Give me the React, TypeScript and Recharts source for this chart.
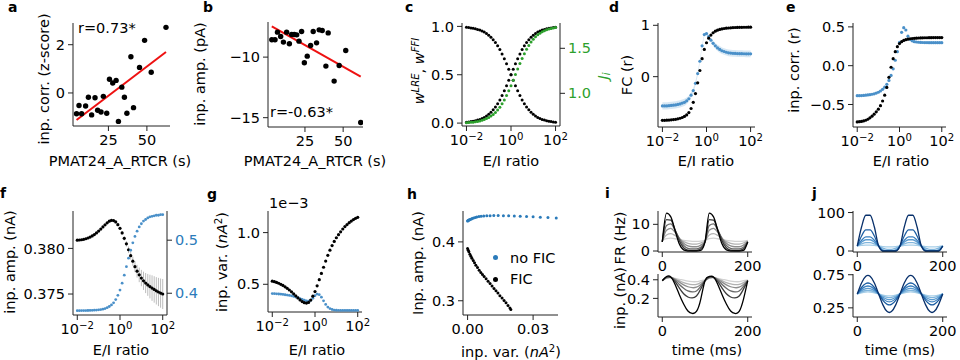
import React from "react";
import {
  ComposedChart,
  ScatterChart,
  Scatter,
  Line,
  Area,
  XAxis,
  YAxis,
  ErrorBar,
  ReferenceLine,
} from "recharts";

const FS = 14.5;
const DOT_BLUE = "#4a90c9";
const TICK_BLUE = "#2b7bba";
const H_BLUE = "#2b7bba";
const GREEN = "#2ca02c";

// a: input correlation vs PMAT24_A_RTCR
const rtcrA = [4.3, 5.9, 7.6, 10.2, 12, 14.1, 16.3, 18, 20.2, 21.7, 23.9, 25.7, 27.8, 30, 31.5, 33.7, 35.4, 37, 39.6, 41.3, 45.2, 48.5, 52.8, 62.4];
const corrA = [-0.86, -0.52, -0.86, -0.54, -0.18, -0.91, -0.2, -0.72, -0.79, -0.14, -0.84, 0.57, 0.41, 0.52, -1.18, 0.24, -0.18, -0.84, 1.5, -0.61, 1.06, 2.18, 0.86, 2.72];
const fitA = { slope: 0.0485, intercept: -1.33 };

// b: input amplitude vs PMAT24_A_RTCR
const rtcrB = [3.3, 5.4, 7, 9.1, 10.9, 13, 14.8, 16.3, 18, 19.6, 21.1, 22.8, 24.6, 26.5, 28.7, 30.4, 32.6, 34.3, 36.3, 38.7, 40.2, 44.1, 47.4, 51.7, 61.5];
const ampB = [-8.57, -8.57, -7.94, -8.3, -8.76, -7.94, -8.9, -8.13, -8.13, -8.16, -8.68, -7.88, -10.47, -9.92, -9.04, -7.88, -8.82, -7.75, -7.8, -10.74, -8, -11.98, -10.69, -9.45, -15.4];
const fitB = { slope: -0.0712, intercept: -7.235 };

// E/I ratio grid (log10)
const eiExp = [-2, -1.9, -1.8, -1.7, -1.6, -1.5, -1.4, -1.3, -1.2, -1.1, -1, -0.9, -0.8, -0.7, -0.6, -0.5, -0.4, -0.3, -0.2, -0.1, 0, 0.1, 0.2, 0.3, 0.4, 0.5, 0.6, 0.7, 0.8, 0.9, 1, 1.1, 1.2, 1.3, 1.4, 1.5, 1.6, 1.7, 1.8, 1.9, 2];

// c
const wLRE = [0.99, 0.988, 0.984, 0.98, 0.975, 0.969, 0.962, 0.952, 0.941, 0.926, 0.909, 0.888, 0.863, 0.834, 0.799, 0.76, 0.715, 0.666, 0.613, 0.557, 0.5, 0.443, 0.387, 0.334, 0.285, 0.24, 0.201, 0.166, 0.137, 0.112, 0.091, 0.074, 0.059, 0.048, 0.038, 0.031, 0.025, 0.02, 0.016, 0.012, 0.01];
const wFFI = [0.01, 0.012, 0.016, 0.02, 0.025, 0.031, 0.038, 0.048, 0.059, 0.074, 0.091, 0.112, 0.137, 0.166, 0.201, 0.24, 0.285, 0.334, 0.387, 0.443, 0.5, 0.557, 0.613, 0.666, 0.715, 0.76, 0.799, 0.834, 0.863, 0.888, 0.909, 0.926, 0.941, 0.952, 0.962, 0.969, 0.975, 0.98, 0.984, 0.988, 0.99];
const jI = [0.674, 0.676, 0.678, 0.68, 0.684, 0.688, 0.693, 0.7, 0.708, 0.719, 0.731, 0.747, 0.765, 0.788, 0.815, 0.846, 0.884, 0.926, 0.975, 1.028, 1.085, 1.146, 1.208, 1.269, 1.33, 1.387, 1.44, 1.489, 1.531, 1.569, 1.6, 1.627, 1.65, 1.668, 1.684, 1.696, 1.707, 1.714, 1.721, 1.726, 1.731];

// d: FC
const fcFic = [-0.85, -0.85, -0.848, -0.845, -0.84, -0.835, -0.83, -0.82, -0.81, -0.795, -0.775, -0.745, -0.7, -0.62, -0.5, -0.33, -0.12, 0.12, 0.35, 0.53, 0.66, 0.75, 0.81, 0.855, 0.885, 0.905, 0.92, 0.93, 0.938, 0.944, 0.948, 0.952, 0.955, 0.957, 0.959, 0.96, 0.961, 0.962, 0.962, 0.963, 0.963];
const fcNoFic = [-0.57, -0.57, -0.57, -0.565, -0.56, -0.555, -0.55, -0.54, -0.53, -0.515, -0.5, -0.47, -0.43, -0.36, -0.27, -0.13, 0.06, 0.3, 0.6, 0.82, 0.84, 0.78, 0.71, 0.65, 0.6, 0.56, 0.53, 0.505, 0.49, 0.475, 0.465, 0.46, 0.455, 0.452, 0.45, 0.448, 0.447, 0.446, 0.445, 0.445, 0.445];
const fcNoFicSd = [0.07, 0.07, 0.07, 0.07, 0.07, 0.07, 0.07, 0.07, 0.07, 0.07, 0.07, 0.065, 0.06, 0.055, 0.05, 0.045, 0.04, 0.035, 0.03, 0.03, 0.03, 0.035, 0.04, 0.05, 0.055, 0.06, 0.065, 0.065, 0.065, 0.065, 0.065, 0.065, 0.065, 0.065, 0.065, 0.065, 0.065, 0.065, 0.065, 0.065, 0.065];

// e: input correlation
const icFic = [-0.725, -0.722, -0.718, -0.712, -0.703, -0.69, -0.672, -0.65, -0.625, -0.595, -0.56, -0.515, -0.455, -0.38, -0.28, -0.15, -0.02, 0.09, 0.18, 0.245, 0.285, 0.31, 0.325, 0.335, 0.342, 0.347, 0.35, 0.353, 0.355, 0.357, 0.358, 0.359, 0.36, 0.36, 0.361, 0.361, 0.362, 0.362, 0.362, 0.362, 0.362];
const icNoFic = [-0.387, -0.386, -0.385, -0.383, -0.38, -0.377, -0.373, -0.368, -0.362, -0.353, -0.342, -0.326, -0.305, -0.277, -0.24, -0.19, -0.125, -0.04, 0.07, 0.18, 0.3, 0.43, 0.49, 0.46, 0.38, 0.34, 0.32, 0.31, 0.305, 0.302, 0.3, 0.299, 0.298, 0.298, 0.297, 0.297, 0.297, 0.296, 0.296, 0.296, 0.296];

// f: input amplitude (nA)
const ampFic = [0.3809, 0.38092, 0.38095, 0.381, 0.38106, 0.38114, 0.38124, 0.38137, 0.38152, 0.3817, 0.3819, 0.38212, 0.38235, 0.38258, 0.3828, 0.38298, 0.38308, 0.38305, 0.3829, 0.3826, 0.3822, 0.3817, 0.3811, 0.3805, 0.37985, 0.3792, 0.3786, 0.378, 0.3775, 0.3771, 0.37675, 0.37645, 0.3762, 0.376, 0.37582, 0.37565, 0.3755, 0.37535, 0.37522, 0.3751, 0.375];
const ampFicSd = [0.0001, 0.0001, 0.0001, 0.0001, 0.0001, 0.0001, 0.0001, 0.0001, 0.0001, 0.0001, 0.0001, 0.0001, 0.0001, 0.0001, 0.0001, 0.0001, 0.00012, 0.00013, 0.00014, 0.00015, 0.00017, 0.0002, 0.00024, 0.0003, 0.00036, 0.00043, 0.0005, 0.0006, 0.0007, 0.0008, 0.0009, 0.001, 0.0011, 0.0012, 0.0013, 0.0014, 0.00145, 0.0015, 0.00155, 0.0016, 0.00165];
const ampNoFic = [0.3672, 0.3672, 0.3673, 0.3673, 0.3674, 0.3675, 0.3676, 0.3678, 0.368, 0.3683, 0.3687, 0.3693, 0.37, 0.3712, 0.3728, 0.375, 0.378, 0.382, 0.388, 0.396, 0.406, 0.419, 0.434, 0.45, 0.466, 0.481, 0.495, 0.507, 0.517, 0.525, 0.531, 0.536, 0.539, 0.542, 0.544, 0.545, 0.546, 0.547, 0.547, 0.548, 0.548];

// g: input variance, in units of 1e-3 nA^2
const varFic = [0.53, 0.525, 0.518, 0.51, 0.5, 0.489, 0.476, 0.461, 0.445, 0.427, 0.408, 0.388, 0.368, 0.349, 0.333, 0.322, 0.318, 0.325, 0.347, 0.385, 0.43, 0.485, 0.545, 0.605, 0.665, 0.725, 0.78, 0.83, 0.875, 0.915, 0.95, 0.98, 1.008, 1.035, 1.058, 1.078, 1.096, 1.112, 1.126, 1.138, 1.148];
const varNoFic = [0.41, 0.409, 0.408, 0.406, 0.404, 0.402, 0.399, 0.396, 0.392, 0.388, 0.383, 0.377, 0.37, 0.362, 0.354, 0.346, 0.34, 0.338, 0.345, 0.365, 0.39, 0.405, 0.4, 0.375, 0.34, 0.305, 0.28, 0.265, 0.256, 0.251, 0.249, 0.248, 0.247, 0.247, 0.247, 0.247, 0.247, 0.247, 0.247, 0.247, 0.247];

// h: amplitude vs variance
const hNoFicVar = [0, 0.00015, 0.0003, 0.0006, 0.0009, 0.0012, 0.0017, 0.0021, 0.0027, 0.0035, 0.0042, 0.0052, 0.0062, 0.0074, 0.0088, 0.0103, 0.012, 0.014, 0.0164, 0.0188, 0.0214, 0.0241, 0.027, 0.03, 0.0333, 0.0368, 0.0406];
const hNoFicAmp = [0.4356, 0.436, 0.4364, 0.437, 0.4376, 0.4382, 0.439, 0.4398, 0.4407, 0.4416, 0.4423, 0.443, 0.4436, 0.444, 0.4444, 0.4446, 0.4447, 0.4447, 0.4446, 0.4444, 0.4441, 0.4437, 0.4432, 0.4426, 0.442, 0.4413, 0.4405];
const hFicVar = [0, 0.0003, 0.0006, 0.00106, 0.00152, 0.00197, 0.00258, 0.00318, 0.00379, 0.00455, 0.0053, 0.00606, 0.00682, 0.00758, 0.00848, 0.00939, 0.0103, 0.0112, 0.0121, 0.013, 0.0139, 0.0148, 0.0158, 0.0167, 0.0176, 0.0185, 0.0194, 0.0198];
const hFicAmp = [0.3887, 0.3859, 0.3831, 0.3791, 0.3757, 0.3723, 0.3684, 0.3644, 0.3605, 0.3565, 0.352, 0.348, 0.3446, 0.3412, 0.3373, 0.3333, 0.3294, 0.3249, 0.3209, 0.3169, 0.313, 0.3085, 0.3045, 0.3006, 0.2966, 0.2921, 0.2876, 0.2853];

// i, j: time courses
const timeMs = [0, 10, 20, 30, 40, 50, 60, 70, 80, 90, 100, 110, 120, 130, 140, 150, 160, 170, 180, 190, 200];
const frFic = [
  [4.0, 4.6, 4.8, 4.6, 4.3, 4.0, 3.8, 3.65, 3.6, 3.7, 4.0, 4.6, 4.8, 4.6, 4.3, 4.0, 3.8, 3.65, 3.6, 3.7, 4.0],
  [3.8, 6.0, 6.5, 5.8, 4.6, 3.5, 2.9, 2.6, 2.6, 3.0, 3.8, 6.0, 6.5, 5.8, 4.6, 3.5, 2.9, 2.6, 2.6, 3.0, 3.8],
  [3.6, 7.8, 8.5, 7.0, 4.8, 2.9, 1.9, 1.6, 1.6, 2.2, 3.6, 7.8, 8.5, 7.0, 4.8, 2.9, 1.9, 1.6, 1.6, 2.2, 3.6],
  [3.5, 9.6, 10.2, 7.8, 4.6, 2.1, 1.0, 0.8, 0.8, 1.4, 3.5, 9.6, 10.2, 7.8, 4.6, 2.1, 1.0, 0.8, 0.8, 1.4, 3.5],
  [3.4, 11.8, 11.6, 8.0, 3.8, 1.2, 0.3, 0.2, 0.2, 0.8, 3.4, 11.8, 11.6, 8.0, 3.8, 1.2, 0.3, 0.2, 0.2, 0.8, 3.4],
  [3.4, 14.2, 12.8, 7.6, 2.6, 0.4, 0, 0, 0, 0.2, 3.4, 14.2, 12.8, 7.6, 2.6, 0.4, 0, 0, 0, 0.2, 3.4],
];
const inpFic = [
  [0.4, 0.415, 0.42, 0.415, 0.405, 0.395, 0.385, 0.38, 0.38, 0.39, 0.4, 0.415, 0.42, 0.415, 0.405, 0.395, 0.385, 0.38, 0.38, 0.39, 0.4],
  [0.395, 0.42, 0.425, 0.41, 0.39, 0.37, 0.355, 0.348, 0.35, 0.37, 0.395, 0.42, 0.425, 0.41, 0.39, 0.37, 0.355, 0.348, 0.35, 0.37, 0.395],
  [0.39, 0.42, 0.425, 0.405, 0.375, 0.345, 0.325, 0.315, 0.32, 0.35, 0.39, 0.42, 0.425, 0.405, 0.375, 0.345, 0.325, 0.315, 0.32, 0.35, 0.39],
  [0.39, 0.425, 0.425, 0.395, 0.35, 0.31, 0.28, 0.27, 0.28, 0.33, 0.39, 0.425, 0.425, 0.395, 0.35, 0.31, 0.28, 0.27, 0.28, 0.33, 0.39],
  [0.39, 0.43, 0.425, 0.38, 0.31, 0.25, 0.215, 0.205, 0.225, 0.3, 0.39, 0.43, 0.425, 0.38, 0.31, 0.25, 0.215, 0.205, 0.225, 0.3, 0.39],
  [0.39, 0.435, 0.43, 0.35, 0.24, 0.14, 0.065, 0.038, 0.06, 0.19, 0.39, 0.435, 0.43, 0.35, 0.24, 0.14, 0.065, 0.038, 0.06, 0.19, 0.39],
];
const frNoFic = [
  [13, 14.5, 15.4, 15.4, 14.5, 13, 11.5, 10.6, 10.6, 11.5, 13, 14.5, 15.4, 15.4, 14.5, 13, 11.5, 10.6, 10.6, 11.5, 13],
  [13, 18.3, 21.6, 21.6, 18.3, 13, 7.7, 4.4, 4.4, 7.7, 13, 18.3, 21.6, 21.6, 18.3, 13, 7.7, 4.4, 4.4, 7.7, 13],
  [13, 23, 29.2, 29.2, 23, 13, 3, 0, 0, 3, 13, 23, 29.2, 29.2, 23, 13, 3, 0, 0, 3, 13],
  [13, 27.7, 36.8, 36.8, 27.7, 13, 0, 0, 0, 0, 13, 27.7, 36.8, 36.8, 27.7, 13, 0, 0, 0, 0, 13],
  [13, 38.9, 54.8, 54.8, 38.9, 13, 0, 0, 0, 0, 13, 38.9, 54.8, 54.8, 38.9, 13, 0, 0, 0, 0, 13],
  [13, 62.4, 92.9, 92.9, 62.4, 13, 0, 0, 0, 0, 13, 62.4, 92.9, 92.9, 62.4, 13, 0, 0, 0, 0, 13],
];
const inpNoFic = [
  [0.46, 0.478, 0.489, 0.489, 0.478, 0.46, 0.442, 0.431, 0.431, 0.442, 0.46, 0.478, 0.489, 0.489, 0.478, 0.46, 0.442, 0.431, 0.431, 0.442, 0.46],
  [0.46, 0.492, 0.512, 0.512, 0.492, 0.46, 0.428, 0.408, 0.408, 0.428, 0.46, 0.492, 0.512, 0.512, 0.492, 0.46, 0.428, 0.408, 0.408, 0.428, 0.46],
  [0.46, 0.51, 0.541, 0.541, 0.51, 0.46, 0.41, 0.379, 0.379, 0.41, 0.46, 0.51, 0.541, 0.541, 0.51, 0.46, 0.41, 0.379, 0.379, 0.41, 0.46],
  [0.46, 0.531, 0.574, 0.574, 0.531, 0.46, 0.389, 0.346, 0.346, 0.389, 0.46, 0.531, 0.574, 0.574, 0.531, 0.46, 0.389, 0.346, 0.346, 0.389, 0.46],
  [0.46, 0.557, 0.617, 0.617, 0.557, 0.46, 0.363, 0.303, 0.303, 0.363, 0.46, 0.557, 0.617, 0.617, 0.557, 0.46, 0.363, 0.303, 0.303, 0.363, 0.46],
  [0.46, 0.625, 0.726, 0.726, 0.625, 0.46, 0.295, 0.194, 0.194, 0.295, 0.46, 0.625, 0.726, 0.726, 0.625, 0.46, 0.295, 0.194, 0.194, 0.295, 0.46],
];
const grays = ["#d2d2d2", "#b2b2b2", "#8e8e8e", "#6a6a6a", "#3c3c3c", "#000000"];
const blues = ["#a6cee8", "#80b5dc", "#5a9bd0", "#3a7fbf", "#1c5ea3", "#08306b"];

// ---- layout helpers
type Box = { x0: number; y0: number; x1: number; y1: number };
const PL = 60, PT = 8, PR = 30, PRA = 40, PB = 34;

const geom = (b: Box, rightAxis = false) => ({
  style: { position: "absolute" as const, left: b.x0 - PL, top: b.y0 - PT },
  width: b.x1 - b.x0 + PL + (rightAxis ? PRA : PR),
  height: b.y1 - b.y0 + PT + PB,
  margin: { top: PT, left: 0, bottom: 0, right: rightAxis ? 0 : PR },
});

const fx = (d: number) => (v: number) => v.toFixed(d).replace("-", "\u2212");

const xAx = {
  stroke: "#222",
  tickSize: 5,
  tickMargin: 4,
  tick: { fill: "#000", fontSize: FS },
  interval: 0 as const,
  allowDataOverflow: true,
};
const yAx = { ...xAx, tickMargin: 3 };

const PowTick = (p: any) => {
  const v = p.payload.value;
  return (
    <text x={p.x} y={p.y} dy="0.71em" textAnchor="middle" fill="#000" fontSize={FS}>
      10
      <tspan dy="-0.5em" fontSize={FS * 0.7}>
        {v < 0 ? `\u2212${-v}` : v}
      </tspan>
    </text>
  );
};

const Txt = ({ x, y, a = "start", size = FS, bold = false, color = "#000", rot = false, children }: any) => {
  const style: React.CSSProperties = {
    position: "absolute",
    left: x,
    whiteSpace: "nowrap",
    fontSize: size,
    lineHeight: `${size}px`,
    color,
    fontWeight: bold ? "bold" : "normal",
  };
  if (rot) {
    style.top = y;
    style.transform = "translate(-50%, -50%) rotate(-90deg)";
  } else {
    style.top = y - 0.846 * size;
    if (a === "middle") style.transform = "translateX(-50%)";
    if (a === "end") style.transform = "translateX(-100%)";
  }
  return <div style={style}>{children}</div>;
};

const sup = { fontSize: "0.7em", verticalAlign: "0.5em", lineHeight: 0 };
const sub = { fontSize: "0.7em", verticalAlign: "-0.25em", lineHeight: 0 };

// ---- panels
function CorrPanel({ box, xs, ys, fit, xDom, yDom, yTicks, yFmt }: any) {
  const g = geom(box);
  const pts = xs.map((x: number, i: number) => ({ x, y: ys[i] }));
  const lo = Math.min(...xs);
  const hi = Math.max(...xs);
  return (
    <div style={g.style}>
      <ScatterChart width={g.width} height={g.height} margin={g.margin}>
        <XAxis dataKey="x" type="number" domain={xDom} ticks={[25, 50]} height={PB} {...xAx} />
        <YAxis dataKey="y" type="number" domain={yDom} ticks={yTicks} tickFormatter={yFmt} width={PL} {...yAx} />
        <Scatter
          data={pts}
          fill="#000"
          isAnimationActive={false}
          shape={(p: any) => <circle cx={p.cx} cy={p.cy} r={2.7} fill="#000" />}
        />
        <ReferenceLine
          segment={[
            { x: lo, y: fit.intercept + fit.slope * lo },
            { x: hi, y: fit.intercept + fit.slope * hi },
          ]}
          stroke="#ee1111"
          strokeWidth={2}
        />
      </ScatterChart>
    </div>
  );
}

function EiPanel({ box, rows, left, right, series, band }: any) {
  const g = geom(box, !!right);
  return (
    <div style={g.style}>
      <ComposedChart width={g.width} height={g.height} margin={g.margin} data={rows}>
        <XAxis dataKey="e" type="number" domain={[-2.2, 2.2]} ticks={[-2, 0, 2]} height={PB} {...xAx} tick={<PowTick />} />
        <YAxis yAxisId="l" type="number" domain={left.domain} ticks={left.ticks} tickFormatter={left.fmt} width={PL} {...yAx} />
        {right && (
          <YAxis
            yAxisId="r"
            orientation="right"
            type="number"
            domain={right.domain}
            ticks={right.ticks}
            tickFormatter={right.fmt}
            width={PRA}
            {...yAx}
            tick={{ fill: right.color, fontSize: FS }}
          />
        )}
        {band && (
          <Area yAxisId="l" dataKey="band" stroke="none" fill={band} fillOpacity={0.45} activeDot={false} isAnimationActive={false} />
        )}
        {series.map((s: any) => (
          <Line
            key={s.key}
            yAxisId={s.axis || "l"}
            dataKey={s.key}
            stroke="none"
            dot={{ r: s.r || 1.6, fill: s.color, stroke: "none", strokeWidth: 0 }}
            activeDot={false}
            isAnimationActive={false}
          >
            {s.err && <ErrorBar dataKey={s.err} width={0} stroke="#bdbdbd" strokeWidth={1} direction="y" />}
          </Line>
        ))}
      </ComposedChart>
    </div>
  );
}

function TimePanel({ box, series, colors, yDom, yTicks, yFmt, curve }: any) {
  const g = geom(box);
  const rows = timeMs.map((t, i) => {
    const r: any = { t };
    series.forEach((s: number[], k: number) => (r["s" + k] = s[i]));
    return r;
  });
  return (
    <div style={g.style}>
      <ComposedChart width={g.width} height={g.height} margin={g.margin} data={rows}>
        <XAxis dataKey="t" type="number" domain={[-10, 210]} ticks={[0, 200]} height={PB} {...xAx} />
        <YAxis type="number" domain={yDom} ticks={yTicks} tickFormatter={yFmt} width={PL} {...yAx} />
        {series.map((_: any, k: number) => (
          <Line
            key={k}
            dataKey={"s" + k}
            type={curve}
            stroke={colors[k]}
            strokeWidth={1.3}
            dot={false}
            activeDot={false}
            isAnimationActive={false}
          />
        ))}
      </ComposedChart>
    </div>
  );
}

function HPanel({ box }: { box: Box }) {
  const g = geom(box);
  const noFic = hNoFicVar.map((x, i) => ({ x, y: hNoFicAmp[i] }));
  const fic = hFicVar.map((x, i) => ({ x, y: hFicAmp[i] }));
  return (
    <div style={g.style}>
      <ScatterChart width={g.width} height={g.height} margin={g.margin}>
        <XAxis dataKey="x" type="number" domain={[-0.0021, 0.0414]} ticks={[0, 0.03]} tickFormatter={fx(2)} height={PB} {...xAx} />
        <YAxis dataKey="y" type="number" domain={[0.2758, 0.4525]} ticks={[0.3, 0.4]} tickFormatter={fx(1)} width={PL} {...yAx} />
        <Scatter name="no FIC" data={noFic} isAnimationActive={false}
          shape={(p: any) => <circle cx={p.cx} cy={p.cy} r={1.5} fill={H_BLUE} />} />
        <Scatter name="FIC" data={fic} isAnimationActive={false}
          shape={(p: any) => <circle cx={p.cx} cy={p.cy} r={1.5} fill="#000" />} />
      </ScatterChart>
    </div>
  );
}

export default function App() {
  const cRows = eiExp.map((e, i) => ({ e, lre: wLRE[i], ffi: wFFI[i], ji: jI[i] }));
  const dRows = eiExp.map((e, i) => ({
    e,
    fic: fcFic[i],
    nofic: fcNoFic[i],
    band: [fcNoFic[i] - fcNoFicSd[i], fcNoFic[i] + fcNoFicSd[i]],
  }));
  const eRows = eiExp.map((e, i) => ({ e, fic: icFic[i], nofic: icNoFic[i] }));
  const fRows = eiExp.map((e, i) => ({ e, fic: ampFic[i], sd: ampFicSd[i], nofic: ampNoFic[i] }));
  const gRows = eiExp.map((e, i) => ({ e, fic: varFic[i], nofic: varNoFic[i] }));

  return (
    <div
      style={{
        position: "absolute",
        left: 0,
        top: 0,
        width: 960,
        height: 360,
        overflow: "hidden",
        background: "#fff",
        fontFamily: "'DejaVu Sans', sans-serif",
      }}
    >
      <CorrPanel box={{ x0: 73, y0: 23, x1: 170, y1: 126 }} xs={rtcrA} ys={corrA} fit={fitA}
        xDom={[2, 65]} yDom={[-1.37, 2.9]} yTicks={[0, 2]} yFmt={fx(0)} />
      <CorrPanel box={{ x0: 268, y0: 22, x1: 363, y1: 127 }} xs={rtcrB} ys={ampB} fit={fitB}
        xDom={[0.8, 63]} yDom={[-15.77, -7.1]} yTicks={[-15, -10]} yFmt={fx(0)} />

      <EiPanel box={{ x0: 462, y0: 23, x1: 560, y1: 126 }} rows={cRows}
        left={{ domain: [-0.03, 1.035], ticks: [0, 0.5, 1], fmt: fx(1) }}
        right={{ domain: [0.637, 1.781], ticks: [1, 1.5], fmt: fx(1), color: GREEN }}
        series={[
          { key: "lre", color: "#000", r: 1.5 },
          { key: "ffi", color: "#000", r: 1.5 },
          { key: "ji", color: GREEN, axis: "r", r: 1.5 },
        ]} />
      <EiPanel box={{ x0: 658, y0: 23, x1: 755, y1: 127 }} rows={dRows} band="#a9cbe6"
        left={{ domain: [-0.98, 1.045], ticks: [0, 1], fmt: fx(0) }}
        series={[
          { key: "nofic", color: DOT_BLUE },
          { key: "fic", color: "#000" },
        ]} />
      <EiPanel box={{ x0: 853, y0: 23, x1: 946, y1: 127 }} rows={eRows}
        left={{ domain: [-0.79, 0.55], ticks: [-0.5, 0, 0.5], fmt: fx(1) }}
        series={[
          { key: "nofic", color: DOT_BLUE },
          { key: "fic", color: "#000" },
        ]} />

      <EiPanel box={{ x0: 73, y0: 211, x1: 167, y1: 315 }} rows={fRows}
        left={{ domain: [0.3727, 0.3841], ticks: [0.375, 0.38], fmt: fx(3) }}
        right={{ domain: [0.359, 0.555], ticks: [0.4, 0.5], fmt: fx(1), color: TICK_BLUE }}
        series={[
          { key: "fic", color: "#000", err: "sd" },
          { key: "nofic", color: DOT_BLUE, axis: "r", r: 1.4 },
        ]} />
      <EiPanel box={{ x0: 268, y0: 211, x1: 362, y1: 312 }} rows={gRows}
        left={{ domain: [0.232, 1.209], ticks: [0.5, 1], fmt: fx(1) }}
        series={[
          { key: "nofic", color: DOT_BLUE, r: 1.4 },
          { key: "fic", color: "#000" },
        ]} />
      <HPanel box={{ x0: 463, y0: 211, x1: 558, y1: 315 }} />

      <TimePanel box={{ x0: 658, y0: 211, x1: 752, y1: 252 }} series={frFic} colors={grays} curve="monotone"
        yDom={[-0.37, 15]} yTicks={[0, 10]} yFmt={fx(0)} />
      <TimePanel box={{ x0: 658, y0: 274, x1: 752, y1: 317 }} series={inpFic} colors={grays} curve="natural"
        yDom={[0, 0.462]} yTicks={[0.2, 0.4]} yFmt={fx(1)} />
      <TimePanel box={{ x0: 853, y0: 211, x1: 947, y1: 252 }} series={frNoFic} colors={blues} curve="monotone"
        yDom={[-2.6, 104]} yTicks={[0, 100]} yFmt={fx(0)} />
      <TimePanel box={{ x0: 853, y0: 274, x1: 947, y1: 317 }} series={inpNoFic} colors={blues} curve="natural"
        yDom={[0.112, 0.761]} yTicks={[0.25, 0.75]} yFmt={fx(2)} />

      {/* panel letters */}
      <Txt x={8} y={12} size={14} bold>a</Txt>
      <Txt x={203} y={12} size={14} bold>b</Txt>
      <Txt x={405} y={12} size={14} bold>c</Txt>
      <Txt x={609} y={12} size={14} bold>d</Txt>
      <Txt x={786} y={12} size={14} bold>e</Txt>
      <Txt x={0} y={198} size={14} bold>f</Txt>
      <Txt x={207} y={199} size={14} bold>g</Txt>
      <Txt x={407} y={199} size={14} bold>h</Txt>
      <Txt x={605} y={198} size={14} bold>i</Txt>
      <Txt x={812} y={198} size={14} bold>j</Txt>

      {/* annotations */}
      <Txt x={78} y={33}>r=0.73*</Txt>
      <Txt x={270} y={117}>r=-0.63*</Txt>
      <Txt x={269} y={208}>1e{"\u2212"}3</Txt>

      {/* y labels */}
      <Txt x={44} y={79} rot>inp. corr. (z-score)</Txt>
      <Txt x={200} y={74} rot>inp. amp. (pA)</Txt>
      <Txt x={419} y={71} rot>
        <i>w</i><span style={sup}><i>LRE</i></span>, <i>w</i><span style={sup}><i>FFI</i></span>
      </Txt>
      <Txt x={603} y={76} rot color={GREEN}>
        <i>J</i><span style={sub}><i>i</i></span>
      </Txt>
      <Txt x={627} y={75} rot>FC (r)</Txt>
      <Txt x={794} y={70} rot>inp. corr. (r)</Txt>
      <Txt x={10} y={262} rot>inp. amp. (nA)</Txt>
      <Txt x={222} y={262} rot>
        inp. var. (<i>nA</i><span style={sup}>2</span>)
      </Txt>
      <Txt x={418} y={263} rot>Inp. amp. (nA)</Txt>
      <Txt x={620} y={238} rot>FR (Hz)</Txt>
      <Txt x={620} y={298} rot>inp. (nA)</Txt>

      {/* x labels */}
      <Txt x={120} y={166} a="middle">PMAT24_A_RTCR (s)</Txt>
      <Txt x={315} y={166} a="middle">PMAT24_A_RTCR (s)</Txt>
      <Txt x={511} y={166} a="middle">E/I ratio</Txt>
      <Txt x={706} y={166} a="middle">E/I ratio</Txt>
      <Txt x={901} y={166} a="middle">E/I ratio</Txt>
      <Txt x={121} y={355} a="middle">E/I ratio</Txt>
      <Txt x={317} y={355} a="middle">E/I ratio</Txt>
      <Txt x={511} y={357} a="middle">
        inp. var. (<i>nA</i><span style={sup}>2</span>)
      </Txt>
      <Txt x={707} y={355} a="middle">time (ms)</Txt>
      <Txt x={900} y={355} a="middle">time (ms)</Txt>

      {/* legend of h */}
      <div style={{ position: "absolute", left: 493, top: 255, width: 5, height: 5, borderRadius: 3, background: H_BLUE }} />
      <Txt x={510} y={263}>no FIC</Txt>
      <div style={{ position: "absolute", left: 493, top: 277, width: 5, height: 5, borderRadius: 3, background: "#000" }} />
      <Txt x={510} y={284}>FIC</Txt>
    </div>
  );
}
